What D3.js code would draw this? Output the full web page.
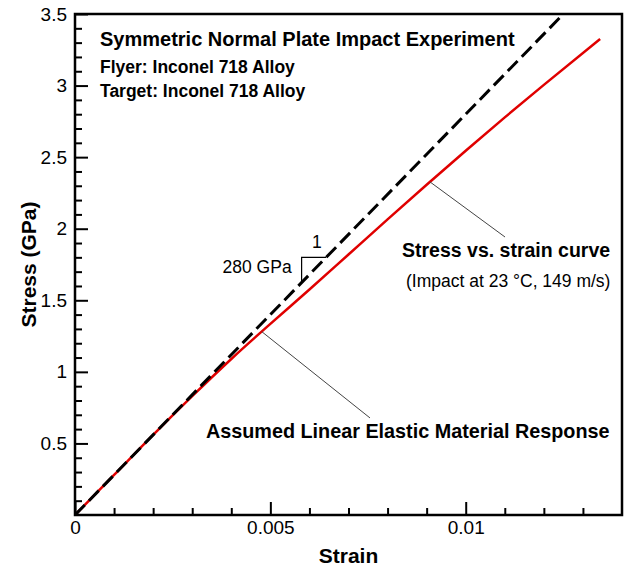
<!DOCTYPE html>
<html>
<head>
<meta charset="utf-8">
<script src="https://cdn.jsdelivr.net/npm/d3@7"></script>
<style>
    html, body { margin: 0; padding: 0; background: #fff; }
    svg { display: block; font-family: "Liberation Sans", Arial, Helvetica, sans-serif; }
</style>
</head>
<body>
<div id="chart"></div>
<script>
// measured stress-strain curve (red)
const curveStrain = [0, 0.001, 0.002, 0.003, 0.004, 0.005, 0.006, 0.007, 0.008, 0.009, 0.010, 0.011, 0.012, 0.01344];
const curveStress = [0, 0.28, 0.56, 0.83, 1.09, 1.335, 1.575, 1.82, 2.065, 2.307, 2.545, 2.778, 3.005, 3.325];

// assumed linear elastic response (dashed), E = 280 GPa
const modulus = 280;
const elasticStrain = [0, 0.0125];

// axis ticks
const xTicks = [0, 0.005, 0.01];
const xMinorTicks = [0.001, 0.002, 0.003, 0.004, 0.006, 0.007, 0.008, 0.009, 0.011, 0.012, 0.013];
const yTicks = [0.5, 1, 1.5, 2, 2.5, 3, 3.5];
const yMinorTicks = [0.1, 0.2, 0.3, 0.4, 0.6, 0.7, 0.8, 0.9, 1.1, 1.2, 1.3, 1.4, 1.6, 1.7, 1.8, 1.9,
                     2.1, 2.2, 2.3, 2.4, 2.6, 2.7, 2.8, 2.9, 3.1, 3.2, 3.3, 3.4];

// slope marker corner and leader anchors (strain, stress)
const slopeCorner = [0.0058, 1.80];
const leaderCurve = [[0.009086, 2.327], [0.011006, 1.942]];
const leaderElastic = [[0.00478, 1.281], [0.00755, 0.678]];

const titleLines = ["Symmetric Normal Plate Impact Experiment", "Flyer: Inconel 718 Alloy", "Target: Inconel 718 Alloy"];

const width = 625, height = 575;
const margin = {top: 14, right: 3, bottom: 60, left: 75};
const font = "'Liberation Sans', Arial, Helvetica, sans-serif";

const svg = d3.select("#chart").append("svg")
    .attr("width", width)
    .attr("height", height);

const x = d3.scaleLinear().domain([0, 0.014]).range([margin.left, width - margin.right]);
const y = d3.scaleLinear().domain([0, 3.5]).range([height - margin.bottom, margin.top]);

svg.append("clipPath").attr("id", "plot-clip")
    .append("rect")
    .attr("x", x(0)).attr("y", y(3.5))
    .attr("width", x(0.014) - x(0)).attr("height", y(0) - y(3.5));

/*
 *  Lines: red curve underneath, dashed elastic line on top
 */
const line = d3.line().x(d => x(d[0])).y(d => y(d[1]));
const smooth = d3.line().x(d => x(d[0])).y(d => y(d[1])).curve(d3.curveMonotoneX);

svg.append("path")
    .attr("clip-path", "url(#plot-clip)")
    .attr("d", smooth(curveStrain.map((s, i) => [s, curveStress[i]])))
    .attr("fill", "none")
    .attr("stroke", "#e00000")
    .attr("stroke-width", 2.5);

svg.append("path")
    .attr("clip-path", "url(#plot-clip)")
    .attr("d", line(elasticStrain.map(s => [s, s * modulus])))
    .attr("fill", "none")
    .attr("stroke", "#000")
    .attr("stroke-width", 3)
    .attr("stroke-dasharray", "14,6");

/*
 *  Axes: major and minor ticks point inward
 */
svg.append("g")
    .attr("transform", "translate(0," + y(0) + ")")
    .call(d3.axisBottom(x).tickValues(xTicks).tickSize(-13).tickPadding(6).tickFormat(d => d));

svg.append("g")
    .attr("transform", "translate(0," + y(0) + ")")
    .call(d3.axisBottom(x).tickValues(xMinorTicks).tickSize(-7).tickFormat(""));

svg.append("g")
    .attr("transform", "translate(" + x(0) + ",0)")
    .call(d3.axisLeft(y).tickValues(yTicks).tickSize(-13).tickPadding(8).tickFormat(d => d));

svg.append("g")
    .attr("transform", "translate(" + x(0) + ",0)")
    .call(d3.axisLeft(y).tickValues(yMinorTicks).tickSize(-7).tickFormat(""));

svg.selectAll(".tick line").attr("stroke", "#000").attr("stroke-width", 2);
svg.selectAll(".domain").remove();
svg.selectAll(".tick text")
    .attr("fill", "#000")
    .style("font-family", font)
    .style("font-size", "19px");

// frame
svg.append("rect")
    .attr("x", x(0)).attr("y", y(3.5))
    .attr("width", x(0.014) - x(0)).attr("height", y(0) - y(3.5))
    .attr("fill", "none")
    .attr("stroke", "#000")
    .attr("stroke-width", 2.5);

// axis titles
svg.append("text")
    .attr("x", (x(0) + x(0.014)) / 2)
    .attr("y", 563)
    .attr("text-anchor", "middle")
    .style("font-size", "21px")
    .style("font-weight", "bold")
    .text("Strain");

svg.append("text")
    .attr("transform", "translate(36," + (y(0) + y(3.5)) / 2 + ") rotate(-90)")
    .attr("text-anchor", "middle")
    .style("font-size", "21px")
    .style("font-weight", "bold")
    .text("Stress (GPa)");

/*
 *  Title block
 */
svg.selectAll(".title-line")
    .data(titleLines)
    .enter().append("text")
    .attr("class", "title-line")
    .attr("x", 100)
    .attr("y", (d, i) => i === 0 ? 46 : 73 + (i - 1) * 24)
    .style("font-size", (d, i) => i === 0 ? "20px" : "17.5px")
    .style("font-weight", "bold")
    .text(d => d);

/*
 *  Slope marker
 */
const sx = x(slopeCorner[0]), sy = y(slopeCorner[1]);
svg.append("path")
    .attr("d", "M" + x(slopeCorner[1] / modulus) + "," + sy + "L" + sx + "," + sy + "L" + sx + "," + y(slopeCorner[0] * modulus))
    .attr("fill", "none")
    .attr("stroke", "#000")
    .attr("stroke-width", 1.2);

svg.append("text")
    .attr("x", sx - 10).attr("y", 273)
    .attr("text-anchor", "end")
    .style("font-size", "17.5px")
    .text("280 GPa");

svg.append("text")
    .attr("x", (sx + x(slopeCorner[1] / modulus)) / 2 + 3).attr("y", 248)
    .attr("text-anchor", "middle")
    .style("font-size", "17.5px")
    .text("1");

/*
 *  Leaders and labels
 */
[leaderCurve, leaderElastic].forEach(pts => {
    svg.append("path")
        .attr("d", line(pts))
        .attr("stroke", "#444")
        .attr("stroke-width", 1);
});

svg.append("text")
    .attr("x", 402).attr("y", 257)
    .style("font-size", "19.5px")
    .style("font-weight", "bold")
    .text("Stress vs. strain curve");

svg.append("text")
    .attr("x", 406).attr("y", 287)
    .style("font-size", "17.5px")
    .text("(Impact at 23 \u00B0C, 149 m/s)");

svg.append("text")
    .attr("x", 206).attr("y", 438)
    .style("font-size", "19.8px")
    .style("font-weight", "bold")
    .text("Assumed Linear Elastic Material Response");
</script>
</body>
</html>
